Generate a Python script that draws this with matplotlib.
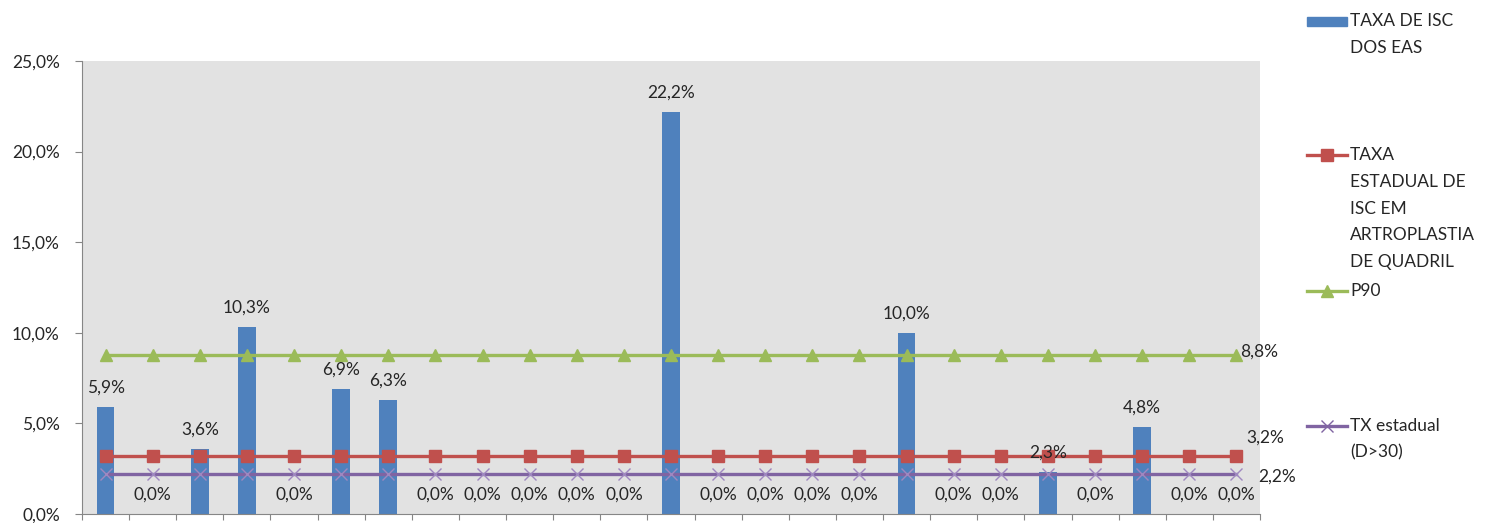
import matplotlib.pyplot as plt
from matplotlib.lines import Line2D
from matplotlib.patches import Rectangle
from matplotlib.ticker import FuncFormatter
import numpy as np

plt.rcParams["font.family"] = ["Lato", "DejaVu Sans"]

# data (%)
positions = list(range(1, 26))
taxa_eas = [5.9, 0.0, 3.6, 10.3, 0.0, 6.9, 6.3, 0.0, 0.0, 0.0, 0.0, 0.0, 22.2,
            0.0, 0.0, 0.0, 0.0, 10.0, 0.0, 0.0, 2.3, 0.0, 4.8, 0.0, 0.0]
taxa_estadual = [3.2] * 25
p90 = [8.8] * 25
tx_estadual_d30 = [2.2] * 25

labels = ["TAXA DE ISC\nDOS EAS",
          "TAXA\nESTADUAL DE\nISC EM\nARTROPLASTIA\nDE QUADRIL",
          "P90",
          "TX estadual\n(D>30)"]

blue, red, green, purple = "#4F81BD", "#C0504D", "#9BBB59", "#8064A2"
txt = "#262626"
fmt = lambda v: f"{v:.1f}%".replace(".", ",")

W, H = 1487, 523
fig = plt.figure(figsize=(W / 100, H / 100), dpi=100)
ax = fig.add_axes([82 / W, 9 / H, 1178 / W, 453 / H])
ax.set_facecolor("#e2e2e2")

ax.bar(positions, taxa_eas, width=0.375, color=blue, zorder=2)
ax.plot(positions, taxa_estadual, color=red, lw=2.4, marker="s", ms=9, zorder=3)
ax.plot(positions, p90, color=green, lw=2.4, marker="^", ms=9, zorder=3)
ax.plot(positions, tx_estadual_d30, color=purple, lw=2.4, marker="x", ms=9,
        mew=1, mec="#9f88c0", zorder=3)

for x, v in zip(positions, taxa_eas):
    ax.annotate(fmt(v), (x, v), xytext=(0, 14), textcoords="offset points",
                ha="center", va="center", fontsize=12.5, color=txt)

ax.annotate(fmt(p90[-1]), (positions[-1], p90[-1]), xytext=(3, 2),
            textcoords="offset points", ha="left", va="center", fontsize=12.5, color=txt)
ax.annotate(fmt(taxa_estadual[-1]), (positions[-1], taxa_estadual[-1]), xytext=(21, 13.5),
            textcoords="offset points", ha="center", va="center", fontsize=12.5, color=txt)
ax.annotate(fmt(tx_estadual_d30[-1]), (positions[-1], tx_estadual_d30[-1]), xytext=(29, -1.5),
            textcoords="offset points", ha="center", va="center", fontsize=12.5, color=txt)

ax.set_xlim(0.5, 25.5)
ax.set_ylim(0, 25)
ax.set_yticks(np.arange(0, 26, 5))
ax.yaxis.set_major_formatter(FuncFormatter(lambda v, p: fmt(v)))
ax.set_xticks(np.arange(0.5, 26, 1))
ax.set_xticklabels([])
ax.tick_params(axis="y", length=5, color="#868686", labelsize=12.5, labelcolor=txt, pad=11)
ax.tick_params(axis="x", length=4, color="#868686")
for s in ["top", "right"]:
    ax.spines[s].set_visible(False)
for s in ["left", "bottom"]:
    ax.spines[s].set_color("#868686")

# legend drawn on the right like the Excel layout
entry_y = [21, 155, 291, 426]
x0, x1, xt = 1307 / W, 1347 / W, 1350 / W
fig.patches.append(Rectangle((x0, 1 - 26 / H), x1 - x0, 9 / H, color=blue,
                             transform=fig.transFigure))
styles = [None, (red, "s"), (green, "^"), (purple, "x")]
for lab, y, st in zip(labels, entry_y, styles):
    yf = 1 - y / H
    if st:
        c, m = st
        fig.lines.append(Line2D([x0, (x0 + x1) / 2, x1], [yf] * 3, color=c, lw=2.4,
                                marker=m, ms=9, markevery=[1], mew=1,
                                transform=fig.transFigure))
    for i, line in enumerate(lab.split("\n")):
        fig.text(xt, 1 - (y + i * 26.8) / H, line, ha="left", va="center",
                 fontsize=12.5, color=txt)

fig.savefig("out.png", dpi=100)
